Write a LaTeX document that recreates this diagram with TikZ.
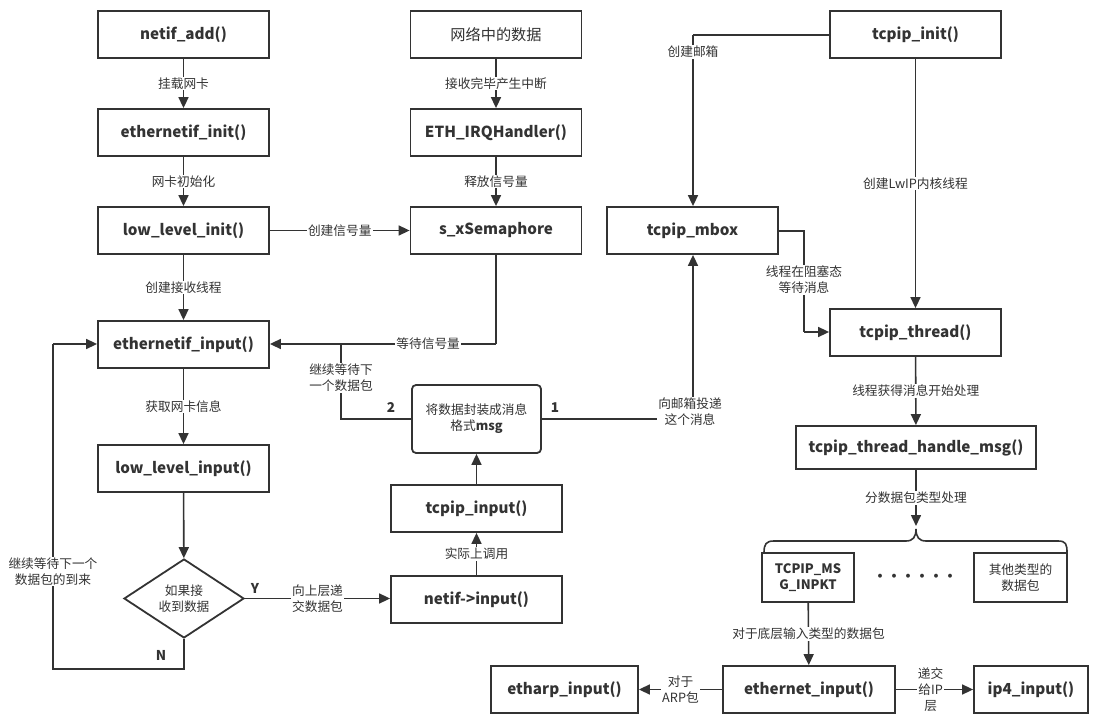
\documentclass[tikz,border=0pt]{standalone}
\usepackage{fontspec}
\setmainfont{Noto Sans CJK SC}
\usetikzlibrary{arrows.meta,shapes.geometric}
\definecolor{ink}{HTML}{333333}
\tikzset{
  box/.style={draw=ink, line width=1.8pt, fill=white, text=ink, minimum width=171pt, minimum height=47pt, inner sep=0pt, font=\fontsize{15.2}{17}\selectfont\bfseries},
  lbl/.style={fill=white, text=ink, inner sep=1pt, align=center, font=\fontsize{12.7}{16}\selectfont},
  tag/.style={text=ink, inner sep=0pt, font=\fontsize{13.5}{15}\selectfont\bfseries},
  conn/.style={draw=ink, line width=1.6pt},
  arr/.style={conn, -{Triangle[length=11pt,width=10pt]}},
}
\begin{document}
\begin{tikzpicture}[x=1pt,y=-1pt]
\useasboundingbox (0,0) rectangle (1096,727);
% left column
\node[box] (netifadd) at (183.5,34.5) {netif\_add()};
\node[box] (ethinit) at (183.5,132.5) {ethernetif\_init()};
\node[box] (lli) at (183.5,230.5) {low\_level\_init()};
\node[box] (eifin) at (183.5,344.5) {ethernetif\_input()};
\node[box] (llin) at (183.5,468.5) {low\_level\_input()};
\node[draw=ink, line width=1.8pt, diamond, minimum width=120pt, minimum height=79pt, inner sep=0pt, text=ink, align=center, font=\fontsize{12.7}{16}\selectfont] (dia) at (184,598.5) {如果接\\收到数据};
% middle column
\node[box, font=\fontsize{15.2}{17}\selectfont] (netdata) at (496,34.5) {网络中的数据};
\node[box] (irq) at (496,132.5) {ETH\_IRQHandler()};
\node[box] (sem) at (496,230.5) {s\_xSemaphore};
\node[box, rounded corners=4pt, minimum width=129pt, minimum height=68pt, align=center, font=\fontsize{12.7}{16}\selectfont] (msg) at (476.5,419) {将数据封装成消息\\格式\textbf{msg}};
\node[box] (tin) at (476.5,508.5) {tcpip\_input()};
\node[box] (nin) at (476.5,599.5) {netif->input()};
% right column
\node[box] (tinit) at (915.5,34.5) {tcpip\_init()};
\node[box] (mbox) at (692.5,230.5) {tcpip\_mbox};
\node[box] (thr) at (915.5,332.5) {tcpip\_thread()};
\node[box, minimum width=240pt, minimum height=43pt] (hdl) at (916,447.5) {tcpip\_thread\_handle\_msg()};
\node[box, minimum width=92pt, minimum height=49pt, align=center, font=\fontsize{13}{16}\selectfont\bfseries] (pkt) at (808,577.5) {TCPIP\_MS\\G\_INPKT};
\node[box, minimum width=93pt, minimum height=49pt, align=center, font=\fontsize{12.7}{16}\selectfont] (other) at (1020.5,577.5) {其他类型的\\数据包};
\node[text=ink, font=\fontsize{14}{16}\selectfont\bfseries] (dots) at (915,578) {······};
\node[box, minimum width=172pt] (ethin) at (809,689.5) {ethernet\_input()};
\node[box, minimum width=147pt] (etharp) at (564.5,689.5) {etharp\_input()};
\node[box, minimum width=114pt] (ip4) at (1031,689.5) {ip4\_input()};

% coordinates
\coordinate (semdown) at (496,344);
\coordinate (j2) at (341,419);
\coordinate (j2up) at (341,344);
\coordinate (j1) at (693,419);
\coordinate (mbtop) at (693,35);
\coordinate (mbr) at (804,231);
\coordinate (mbd) at (804,332);
\coordinate (nd) at (184,669);
\coordinate (nl) at (53,669);
\coordinate (nu) at (53,344);
\coordinate (brtip) at (916,526);

% left edges
\draw[arr] (netifadd) -- node[lbl]{挂载网卡} (ethinit);
\draw[arr] (ethinit) -- node[lbl]{网卡初始化} (lli);
\draw[arr] (lli) -- node[lbl, pos=0.5]{创建信号量} (sem);
\draw[arr] (lli) -- node[lbl]{创建接收线程} (eifin);
\draw[arr] (eifin) -- node[lbl]{获取网卡信息} (llin);
\draw[arr] (llin) -- (dia);
\draw[arr] (dia.east) -- node[lbl, pos=0.5]{向上层递\\交数据包} (nin.west |- dia.east);
\node[tag] (ytag) at (255,588) {Y};
\draw[conn] (dia.south) -- (nd) -- (nl) -- node[lbl, pos=0.3]{继续等待下一个\\数据包的到来} (nu);
\draw[arr] (nu) -- (eifin.west |- nu);
\node[tag] (ntag) at (161,655) {N};
% middle edges
\draw[arr] (netdata) -- node[lbl]{接收完毕产生中断} (irq);
\draw[arr] (irq) -- node[lbl]{释放信号量} (sem);
\draw[conn] (sem.south) -- (semdown);
\draw[arr] (semdown) -- node[lbl, pos=0.3]{等待信号量} (eifin.east |- semdown);
\draw[conn] (msg.west) -- (j2) -- node[lbl, pos=0.55]{继续等待下\\一个数据包} (j2up);
\node[tag] (two) at (391,408) {2};
\node[tag] (one) at (555,408) {1};
\draw[conn] (msg.east) -- (j1);
\draw[arr] (j1) -- (mbox.south -| j1);
\node[lbl] (postlbl) at (690,412) {向邮箱投递\\这个消息};
\draw[arr] (nin) -- node[lbl]{实际上调用} (tin);
\draw[arr] (tin) -- (msg);
% right edges
\draw[conn] (tinit.west |- mbtop) -- (mbtop);
\draw[arr] (mbtop) -- node[lbl, pos=0.1]{创建邮箱} (mbox.north -| mbtop);
\draw[arr] (tinit) -- node[lbl]{创建LwIP内核线程} (thr);
\draw[conn] (mbox.east |- mbr) -- (mbr) -- (mbd);
\draw[arr] (mbd) -- (thr.west |- mbd);
\node[lbl] (waitlbl) at (804,280) {线程在阻塞态\\等待消息};
\draw[arr] (thr) -- node[lbl]{线程获得消息开始处理} (hdl);
\draw[arr] (hdl.south -| brtip) -- node[lbl, pos=0.5]{分数据包类型处理} (brtip);
\draw[draw=ink, line width=1.6pt] (764,553) .. controls (764,544) and (766,541) .. (774,541) -- (906,541) .. controls (913,541) and (916,537) .. (916,529) .. controls (916,537) and (919,541) .. (926,541) -- (1058,541) .. controls (1066,541) and (1067,544) .. (1067,553);
\draw[arr] (pkt) -- node[lbl]{对于底层输入类型的数据包} (ethin);
\draw[arr] (ethin) -- node[lbl]{对于\\ARP包} (etharp);
\draw[arr] (ethin) -- node[lbl, pos=0.45]{递交\\给IP\\层} (ip4);
\end{tikzpicture}
\end{document}
